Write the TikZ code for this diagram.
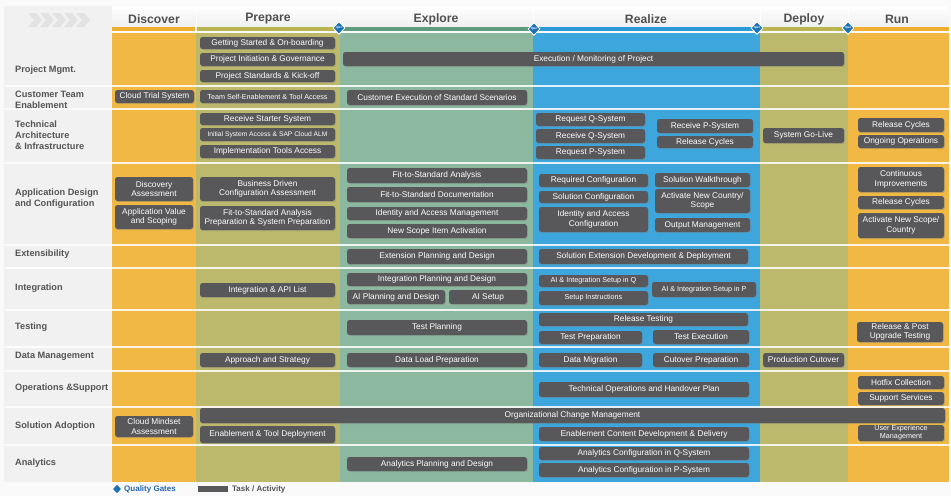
\documentclass[tikz,border=0pt]{standalone}
\usepackage{fontspec}
\setmainfont{Liberation Sans}
\usetikzlibrary{shapes.geometric,shadows}

\definecolor{pagebg}{HTML}{FAFAFA}
\definecolor{labelbg}{HTML}{F1F1F1}
\definecolor{cDisc}{HTML}{F1B943}
\definecolor{cPrep}{HTML}{BDB96C}
\definecolor{cExpl}{HTML}{8DB8A0}
\definecolor{cReal}{HTML}{3DA7DD}
\definecolor{cDepl}{HTML}{BDB96C}
\definecolor{cRun}{HTML}{F1B943}
\definecolor{barDisc}{HTML}{EFAE2C}
\definecolor{barPrep}{HTML}{BAB552}
\definecolor{barExpl}{HTML}{5E9C7D}
\definecolor{barReal}{HTML}{2B9AD8}
\definecolor{boxgray}{HTML}{58585B}
\definecolor{labelgray}{HTML}{545454}
\definecolor{headgray}{HTML}{505050}
\definecolor{gateblue}{HTML}{1C72B8}
\definecolor{legendblue}{HTML}{2566B0}
\definecolor{chevgray}{HTML}{E2E2E2}

\tikzset{
  taskbox/.style={rounded corners=2.5pt, fill=boxgray, text=white, inner sep=0pt,
    align=center, font=\fontsize{8.3}{9.6}\selectfont,
    drop shadow={opacity=0.35, shadow xshift=0.9pt, shadow yshift=-1.1pt}},
  tsmall/.style={font=\fontsize{7.2}{8.2}\selectfont},
  ttiny/.style={font=\fontsize{6.7}{7.5}\selectfont},
  rowlabel/.style={anchor=west, align=left, text=labelgray, inner sep=0pt,
    font=\fontsize{9.2}{11}\bfseries\selectfont},
  phase/.style={text=headgray, inner sep=0pt, font=\fontsize{12.2}{14}\bfseries\selectfont},
  gate/.style={diamond, fill=gateblue, draw=white, line width=0.8pt, minimum width=12pt,
    minimum height=13pt, inner sep=0pt, text=white, font=\fontsize{2.8}{3}\bfseries\selectfont},
  rowsep/.style={white, line width=1.5pt, opacity=0.85},
}

% \tbox[extra style]{name}{x1}{y1}{x2}{y2}{text}
\newcommand\tbox[7][]{%
  \node[taskbox, minimum width={(#5-#3)*1pt}, minimum height={(#6-#4)*1pt}, #1]
    (#2) at ({(#3+#5)/2},{(#4+#6)/2}) {#7};}

\begin{document}
\begin{tikzpicture}[x=1pt,y=-1pt]
\useasboundingbox (0,0) rectangle (951,496);
\fill[pagebg] (0,0) rectangle (951,496);

% label column and header band
\fill[labelbg] (4,6) rectangle (112,482);
\shade[top color=white, bottom color=black!6] (112,6) rectangle (949,27);
\foreach \xx in {196,340,533,760,848}
  \draw[white, line width=0.8pt] (\xx,6) -- (\xx,27);

% chevrons
\foreach \cx in {28,40,52,64,76}
  \fill[chevgray] (\cx,13) -- ({\cx+8},13) -- ({\cx+14},20) -- ({\cx+8},27) -- (\cx,27) -- ({\cx+6},20) -- cycle;

% phase columns
\fill[cDisc] (112,33) rectangle (196,482);
\fill[cPrep] (196,33) rectangle (340,482);
\fill[cExpl] (340,33) rectangle (533,482);
\fill[cReal] (533,33) rectangle (760,482);
\fill[cDepl] (760,33) rectangle (848,482);
\fill[cRun]  (848,33) rectangle (949,482);

% phase header underlines
\fill[barDisc] (112,27) rectangle (195,30.5);
\fill[barPrep] (197,27) rectangle (336,30.5);
\fill[barExpl] (343,27) rectangle (530,30.5);
\fill[barReal] (537,27) rectangle (753,30.5);
\fill[barPrep] (762,27) rectangle (844,30.5);
\fill[barDisc] (852,27) rectangle (949,30.5);

% phase headers
\node[phase] (hDisc) at (154,19) {Discover};
\node[phase] (hPrep) at (268,19) {Prepare};
\node[phase] (hExpl) at (436,19) {Explore};
\node[phase] (hReal) at (646,19) {Realize};
\node[phase] (hDepl) at (804,19) {Deploy};
\node[phase] (hRun)  at (897,19) {Run};

% row separators
\foreach \yy in {86,109,163,245,268,310,347,371,407,445}
  \draw[rowsep] (5,\yy) -- (949,\yy);

% workstream labels
\node[rowlabel] (lPM)  at (15,70)  {Project Mgmt.};
\node[rowlabel] (lCT)  at (15,100) {Customer Team\\Enablement};
\node[rowlabel] (lTA)  at (15,135) {Technical\\Architecture\\\& Infrastructure};
\node[rowlabel] (lAD)  at (15,199) {Application Design\\and Configuration};
\node[rowlabel] (lEX)  at (15,254) {Extensibility};
\node[rowlabel] (lIN)  at (15,288) {Integration};
\node[rowlabel] (lTE)  at (15,327) {Testing};
\node[rowlabel] (lDM)  at (15,356) {Data Management};
\node[rowlabel] (lOS)  at (15,388) {Operations \&Support};
\node[rowlabel] (lSA)  at (15,426) {Solution Adoption};
\node[rowlabel] (lAN)  at (15,463) {Analytics};

% Project Mgmt.
\tbox{pm1}{200}{37}{335}{49}{Getting Started \& On-boarding}
\tbox{pm2}{200}{53}{335}{66}{Project Initiation \& Governance}
\tbox{pm3}{200}{70}{335}{82}{Project Standards \& Kick-off}
\tbox{pm4}{343}{52}{844}{66}{Execution / Monitoring of Project}

% Customer Team Enablement
\tbox{ct1}{115}{90}{194}{103}{Cloud Trial System}
\tbox[tsmall]{ct2}{200}{90}{335}{103}{Team Self-Enablement \& Tool Access}
\tbox{ct3}{347}{90}{527}{105}{Customer Execution of Standard Scenarios}

% Technical Architecture & Infrastructure
\tbox{ta1}{200}{113}{335}{125}{Receive Starter System}
\tbox[ttiny]{ta2}{200}{128}{335}{141}{Initial System Access \& SAP Cloud ALM}
\tbox{ta3}{200}{145}{335}{158}{Implementation Tools Access}
\tbox{ta4}{536}{113}{645}{126}{Request Q-System}
\tbox{ta5}{536}{129}{645}{143}{Receive Q-System}
\tbox{ta6}{536}{146}{645}{159}{Request P-System}
\tbox{ta7}{657}{119}{753}{133}{Receive P-System}
\tbox{ta8}{657}{136}{753}{148}{Release Cycles}
\tbox{ta9}{763}{128}{844}{143}{System Go-Live}
\tbox{ta10}{858}{118}{944}{132}{Release Cycles}
\tbox{ta11}{858}{135}{944}{148}{Ongoing Operations}

% Application Design and Configuration
\tbox{ad1}{115}{177}{193}{201}{Discovery\\Assessment}
\tbox{ad2}{115}{205}{193}{229}{Application Value\\and Scoping}
\tbox{ad3}{200}{177}{335}{201}{Business Driven\\Configuration Assessment}
\tbox{ad4}{200}{206}{335}{230}{Fit-to-Standard Analysis\\Preparation \& System Preparation}
\tbox{ad5}{347}{168}{527}{183}{Fit-to-Standard Analysis}
\tbox{ad6}{347}{187}{527}{202}{Fit-to-Standard Documentation}
\tbox{ad7}{347}{207}{527}{220}{Identity and Access Management}
\tbox{ad8}{347}{224}{527}{238}{New Scope Item Activation}
\tbox{ad9}{539}{174}{648}{187}{Required Configuration}
\tbox{ad10}{539}{191}{648}{203}{Solution Configuration}
\tbox{ad11}{539}{207}{648}{232}{Identity and Access\\Configuration}
\tbox{ad12}{655}{173}{750}{187}{Solution Walkthrough}
\tbox{ad13}{655}{189}{750}{213}{Activate New Country/\\Scope}
\tbox{ad14}{655}{218}{750}{232}{Output Management}
\tbox{ad15}{858}{167}{944}{192}{Continuous\\Improvements}
\tbox{ad16}{858}{196}{944}{209}{Release Cycles}
\tbox{ad17}{858}{213}{944}{238}{Activate New Scope/\\Country}

% Extensibility
\tbox{ex1}{347}{249}{527}{264}{Extension Planning and Design}
\tbox{ex2}{539}{249}{748}{264}{Solution Extension Development \& Deployment}

% Integration
\tbox{in1}{200}{283}{335}{297}{Integration \& API List}
\tbox{in2}{347}{273}{527}{286}{Integration Planning and Design}
\tbox{in3}{347}{290}{445}{304}{AI Planning and Design}
\tbox{in4}{449}{290}{527}{304}{AI Setup}
\tbox[tsmall]{in5}{539}{275}{648}{287}{AI \& Integration Setup in Q}
\tbox[tsmall]{in6}{539}{291}{648}{305}{Setup Instructions}
\tbox[tsmall]{in7}{652}{282}{756}{297}{AI \& Integration Setup in P}

% Testing
\tbox{te1}{347}{320}{527}{335}{Test Planning}
\tbox{te2}{539}{313}{748}{326}{Release Testing}
\tbox{te3}{539}{331}{642}{344}{Test Preparation}
\tbox{te4}{653}{330}{749}{344}{Test Execution}
\tbox{te5}{857}{322}{943}{342}{Release \& Post\\Upgrade Testing}

% Data Management
\tbox{dm1}{200}{353}{335}{367}{Approach and Strategy}
\tbox{dm2}{347}{353}{527}{367}{Data Load Preparation}
\tbox{dm3}{539}{353}{642}{367}{Data Migration}
\tbox{dm4}{653}{353}{749}{367}{Cutover Preparation}
\tbox{dm5}{763}{353}{844}{367}{Production Cutover}

% Operations & Support
\tbox{os1}{539}{382}{749}{397}{Technical Operations and Handover Plan}
\tbox{os2}{858}{376}{944}{389}{Hotfix Collection}
\tbox{os3}{858}{392}{944}{405}{Support Services}

% Solution Adoption
\tbox{sa1}{200}{408}{945}{423}{Organizational Change Management}
\tbox{sa2}{115}{416}{193}{437}{Cloud Mindset\\Assessment}
\tbox{sa3}{200}{426}{335}{443}{Enablement \& Tool Deployment}
\tbox{sa4}{539}{427}{749}{441}{Enablement Content Development \& Delivery}
\tbox[tsmall]{sa5}{858}{425}{944}{441}{User Experience\\Management}

% Analytics
\tbox{an1}{347}{457}{527}{471}{Analytics Planning and Design}
\tbox{an2}{539}{447}{749}{460}{Analytics Configuration in Q-System}
\tbox{an3}{539}{463}{749}{477}{Analytics Configuration in P-System}

% quality gates
\node[gate] (qg1) at (339,28) {QG1};
\node[gate] (qg2) at (534,29) {QG2};
\node[gate] (qg3) at (757,28) {QG3};
\node[gate] (qg4) at (848,28) {QG4};

% legend
\node[diamond, fill=gateblue, minimum width=8pt, minimum height=8.5pt, inner sep=0pt] (lgGate) at (117,489) {};
\node[anchor=west, inner sep=0pt, text=legendblue, font=\fontsize{8}{9}\bfseries\selectfont] (lgGateText) at (124,489.5) {Quality Gates};
\node[fill=boxgray, minimum width=30pt, minimum height=5.5pt, inner sep=0pt] (lgTask) at (213,489) {};
\node[anchor=west, inner sep=0pt, text=labelgray, font=\fontsize{8}{9}\bfseries\selectfont] (lgTaskText) at (232,489.5) {Task / Activity};
\end{tikzpicture}
\end{document}
